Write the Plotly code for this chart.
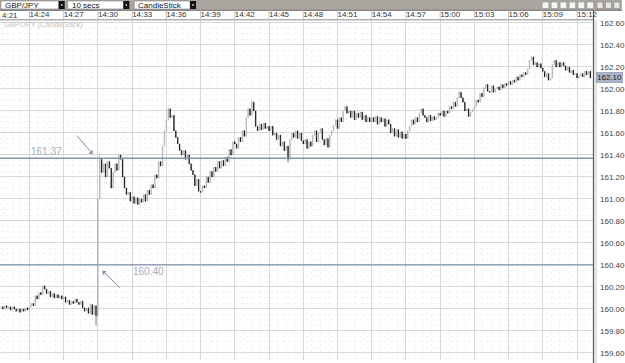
import plotly.graph_objects as go
import pandas as pd

# ---------------- data ----------------
symbol = "GBP/JPY"
interval_label = "10 secs"
chart_type = "CandleStick"
start_time = "2024-01-01 14:21:30"
bar_freq = "10s"
first_open = 160.02

closes_a = [160.02,160.00,160.03,160.01,160.02,159.99,160.02,160.00,159.98,160.00,159.97,160.00,159.98,160.01,159.99]
closes_b = [160.02,160.05,160.03,160.12,160.09,160.15,160.13,160.21,160.18,160.14,160.16,160.11,160.14,160.10,160.13,160.10,160.12,160.09]
closes_c = [160.11,160.06,160.08,160.04,160.07,160.05,160.09,160.06,160.04,160.07,160.01,159.98,160.01,159.96,160.04,159.95,160.03,159.94]
closes_d = [161.00,161.36,161.24,161.32,161.20,161.34,161.28,161.10,161.24,161.32,161.26,161.40,161.36,161.20,161.10,161.04,161.06,160.98]
closes_e = [161.02,160.96,161.01,160.95,161.00,160.97,161.04,160.98,161.08,161.04,161.13,161.10,161.22,161.19,161.34,161.30,161.48,161.62]
closes_f = [161.72,161.82,161.74,161.76,161.62,161.56,161.50,161.44,161.40,161.44,161.36,161.40,161.32,161.26,161.22,161.12,161.18,161.07]
closes_g = [161.06,161.12,161.10,161.20,161.15,161.25,161.20,161.29,161.25,161.34,161.28,161.35,161.30,161.38,161.34,161.45,161.40,161.52]
closes_h = [161.50,161.46,161.56,161.52,161.62,161.57,161.74,161.82,161.76,161.88,161.80,161.66,161.62,161.68,161.63,161.69,161.64,161.66]
closes_i = [161.62,161.66,161.58,161.60,161.54,161.58,161.48,161.52,161.44,161.48,161.36,161.54,161.60,161.56,161.62,161.55,161.60,161.53]
closes_j = [161.50,161.54,161.46,161.52,161.48,161.58,161.62,161.52,161.60,161.64,161.54,161.49,161.55,161.47,161.58,161.62,161.67,161.72]
closes_k = [161.64,161.74,161.70,161.80,161.84,161.78,161.80,161.74,161.80,161.72,161.78,161.74,161.79,161.72,161.76,161.70,161.74,161.70]
closes_l = [161.74,161.70,161.75,161.68,161.74,161.70,161.73,161.66,161.72,161.68,161.60,161.64,161.57,161.63,161.56,161.61,161.55,161.59]
closes_m = [161.55,161.62,161.66,161.72,161.68,161.74,161.70,161.78,161.82,161.76,161.74,161.70,161.76,161.71,161.75,161.72,161.74,161.78]
closes_n = [161.76,161.80,161.75,161.80,161.78,161.84,161.82,161.88,161.84,161.92,161.97,161.92,161.88,161.80,161.82,161.75,161.79,161.81]
closes_o = [161.84,161.90,161.88,161.96,161.93,162.01,162.04,161.98,161.97,162.03,161.97,162.00,162.02,161.99,162.04,162.01,162.05,162.03]
closes_p = [162.07,162.04,162.08,162.06,162.11,162.08,162.13,162.11,162.15,162.13,162.18,162.26,162.29,162.22,162.24,162.20,162.23,162.19]
closes_q = [162.16,162.11,162.14,162.08,162.10,162.22,162.26,162.20,162.24,162.20,162.24,162.21,162.17,162.20,162.15,162.17,162.13,162.14]
closes_r = [162.10,162.12,162.14,162.11,162.16,162.13,162.16,162.10]

# notable wicks (bar index -> price)
high_wicks = {52: 161.42, 88: 161.84, 132: 161.90, 241: 161.99, 279: 162.30}
low_wicks = {50: 159.85, 51: 159.92, 151: 161.33}

level_high = 161.37
level_low = 160.40
price_ticks = [159.60,159.80,160.00,160.20,160.40,160.60,160.80,161.00,161.20,161.40,
               161.60,161.80,162.00,162.20,162.40,162.60]
tick_labels = ["14:24","14:27","14:30","14:33","14:36","14:39","14:42","14:45",
               "14:48","14:51","14:54","14:57","15:00","15:03","15:06","15:09","15:12"]
day = "2024-01-01"

closes = (closes_a + closes_b + closes_c + closes_d + closes_e + closes_f + closes_g +
          closes_h + closes_i + closes_j + closes_k + closes_l + closes_m + closes_n +
          closes_o + closes_p + closes_q + closes_r)
opens = [first_open] + closes[:-1]
highs = [high_wicks.get(i, max(o, c)) for i, (o, c) in enumerate(zip(opens, closes))]
lows = [low_wicks.get(i, min(o, c)) for i, (o, c) in enumerate(zip(opens, closes))]
times = pd.date_range(start_time, periods=len(closes), freq=bar_freq)
tick_times = [f"{day} {t}:00" for t in tick_labels]

# ---------------- layout helpers (pixel -> paper) ----------------
W, H = 625, 363
PL, PR, PT, PB = 0, 596, 20, 360
def xp(px):
    return (px - PL) / (PR - PL)
def yp(py):
    return (PB - py) / (PB - PT)

FONT = "Liberation Sans Narrow, Liberation Sans, Arial, sans-serif"

fig = go.Figure()
fig.add_trace(go.Candlestick(
    x=times, open=opens, high=highs, low=lows, close=closes,
    increasing=dict(line=dict(color="#a4a4a4", width=0.5), fillcolor="#c4c4c4"),
    decreasing=dict(line=dict(color="#000000", width=0.5), fillcolor="#000000"),
    whiskerwidth=0, showlegend=False, hoverinfo="skip",
))

shapes = []
# toolbar
shapes.append(dict(type="rect", xref="paper", yref="paper", x0=xp(0), x1=xp(W), y0=yp(10), y1=yp(0),
                   fillcolor="#aaa69f", line=dict(width=0), layer="above"))
for bx0, bx1 in [(1, 59), (68, 124), (135, 191)]:
    shapes.append(dict(type="rect", xref="paper", yref="paper", x0=xp(bx0), x1=xp(bx1), y0=yp(9), y1=yp(1),
                       fillcolor="#ffffff", line=dict(color="#808080", width=0.6), layer="above"))
    shapes.append(dict(type="rect", xref="paper", yref="paper", x0=xp(bx1), x1=xp(bx1 + 6), y0=yp(9), y1=yp(1),
                       fillcolor="#111111", line=dict(width=0), layer="above"))
    shapes.append(dict(type="rect", xref="paper", yref="paper", x0=xp(bx1 + 2.3), x1=xp(bx1 + 3.7), y0=yp(5.7), y1=yp(4.3),
                       fillcolor="#ffffff", line=dict(width=0), layer="above"))
for ix in [545, 554, 563, 572, 581, 590]:
    shapes.append(dict(type="rect", xref="paper", yref="paper", x0=xp(ix), x1=xp(ix + 6.5), y0=yp(8.5), y1=yp(2),
                       fillcolor="#f4f4f4", line=dict(color="#8a8a8a", width=0.5), layer="above"))
for ix in [600, 608.5, 617]:
    shapes.append(dict(type="rect", xref="paper", yref="paper", x0=xp(ix), x1=xp(ix + 6), y0=yp(8.5), y1=yp(2),
                       fillcolor="#e6e6e6", line=dict(color="#777777", width=0.5), layer="above"))
# toolbar bottom & axis row bottom lines
shapes.append(dict(type="line", xref="paper", yref="paper", x0=xp(0), x1=xp(W), y0=yp(10.3), y1=yp(10.3),
                   line=dict(color="#666666", width=1), layer="above"))
shapes.append(dict(type="line", xref="paper", yref="paper", x0=xp(0), x1=xp(PR), y0=yp(19.8), y1=yp(19.8),
                   line=dict(color="#8a8a8a", width=1), layer="above"))
# separators in the time label row
for t in tick_times:
    shapes.append(dict(type="line", xref="x", yref="paper", x0=t, x1=t, y0=yp(19.8), y1=yp(10.5),
                       line=dict(color="#c4c4c4", width=1), layer="above"))
# right border of plot
shapes.append(dict(type="line", xref="paper", yref="paper", x0=xp(596.5), x1=xp(596.5), y0=yp(H), y1=yp(10.5),
                   line=dict(color="#555555", width=1.2), layer="above"))
shapes.append(dict(type="rect", xref="paper", yref="paper", x0=xp(597.3), x1=xp(600), y0=yp(H), y1=yp(19.8),
                   fillcolor="#e2e2e2", line=dict(width=0), layer="above"))
# price level lines
for lv in (level_high, level_low):
    shapes.append(dict(type="line", xref="paper", yref="y", x0=0, x1=1, y0=lv, y1=lv,
                       line=dict(color="#8193ac", width=1.3), layer="above"))

annotations = []
for txt, px in [(symbol, 3), (interval_label, 70), (chart_type, 137)]:
    annotations.append(dict(text=txt, xref="paper", yref="paper", x=xp(px), y=yp(5.2), xanchor="left",
                            yanchor="middle", showarrow=False, font=dict(family=FONT, size=8, color="#111111")))
annotations.append(dict(text="4:21", xref="paper", yref="paper", x=xp(0), y=yp(15),
                        xanchor="left", yanchor="middle", showarrow=False,
                        font=dict(family=FONT, size=8, color="#333333")))
annotations.append(dict(text=f"{symbol} ({chart_type})", xref="paper", yref="paper", x=xp(2), y=yp(24.5),
                        xanchor="left", yanchor="middle", showarrow=False,
                        font=dict(family=FONT, size=7.5, color="#c4c4c4")))
annotations.append(dict(text=f"{level_high:.2f}", xref="paper", yref="y", x=xp(29), y=level_high, yshift=7,
                        xanchor="left", yanchor="middle", showarrow=False,
                        font=dict(family="Liberation Sans, Arial", size=10, color="#a4aec0")))
annotations.append(dict(text=f"{level_low:.2f}", xref="paper", yref="y", x=xp(132), y=level_low, yshift=-7,
                        xanchor="left", yanchor="middle", showarrow=False,
                        font=dict(family="Liberation Sans, Arial", size=10, color="#a4aec0")))
annotations.append(dict(text="", xref="paper", yref="paper", x=xp(93), y=yp(154), ax=-17, ay=-20,
                        showarrow=True, arrowhead=1, arrowsize=1, arrowwidth=1, arrowcolor="#8193ac"))
annotations.append(dict(text="", xref="paper", yref="paper", x=xp(103), y=yp(271), ax=19, ay=18,
                        showarrow=True, arrowhead=1, arrowsize=1, arrowwidth=1, arrowcolor="#8193ac"))
annotations.append(dict(text=f"{closes[-1]:.2f}", xref="paper", yref="y", x=xp(599), y=closes[-1],
                        xanchor="left", yanchor="middle", showarrow=False, bgcolor="#a9b5c9",
                        bordercolor="#7f8ea6", borderwidth=0.5, borderpad=0.5,
                        font=dict(family=FONT, size=8, color="#222222")))

fig.update_layout(
    width=W, height=H,
    margin=dict(l=PL, r=W - PR, t=PT, b=H - PB, pad=0),
    paper_bgcolor="#ffffff", plot_bgcolor="#ffffff",
    font=dict(family=FONT, size=8, color="#333333"),
    shapes=shapes, annotations=annotations,
    boxgap=0.55,
    xaxis=dict(
        type="date", side="top", range=[f"{day} 14:21:25", f"{day} 15:13:24"],
        tickvals=tick_times, ticktext=tick_labels, ticks="", ticklabelposition="outside right",
        showgrid=True, gridcolor="#d8d8d8", gridwidth=1, zeroline=False, showline=False,
        rangeslider=dict(visible=False), tickfont=dict(family=FONT, size=8, color="#333333"),
        minor=dict(dtick=45000, showgrid=True, gridcolor="#f3f3f3", griddash="dot"),
        fixedrange=True,
    ),
    yaxis=dict(
        side="right", range=[159.536, 162.627], tickvals=price_ticks,
        ticktext=[f"{v:.2f}" for v in price_ticks],
        showgrid=True, gridcolor="#d8d8d8", gridwidth=1, zeroline=False, ticks="", showline=False,
        ticklabelstandoff=6, tickfont=dict(family=FONT, size=8, color="#444444"),
        minor=dict(dtick=0.05, showgrid=True, gridcolor="#f3f3f3", griddash="dot"),
        fixedrange=True,
    ),
)

fig.write_html("out.html")
